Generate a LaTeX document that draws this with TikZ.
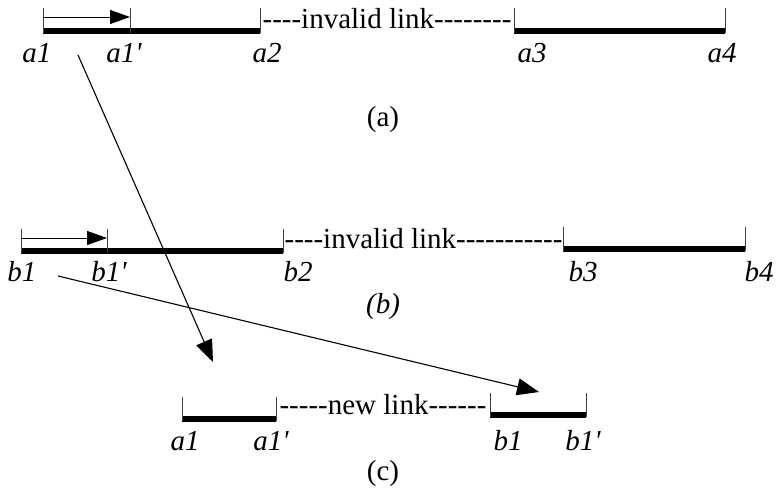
\documentclass[tikz,border=0pt]{standalone}
\usepackage{fontspec}
\setmainfont{Liberation Serif}[Ligatures=TeXOff]
\usetikzlibrary{arrows.meta}

\newcommand\figfont{\fontsize{29}{33}\selectfont}

\tikzset{
  seg/.style={line width=6pt},
  tick/.style={line width=0.7pt,black!75},
  lbl/.style={font=\figfont\itshape,anchor=base,inner sep=0pt},
  linktext/.style={font=\figfont,anchor=base,inner sep=0pt},
  short/.style={line width=1pt,-{Triangle[length=20pt,width=14pt]}},
  long/.style={line width=1.1pt,-{Triangle[length=22pt,width=17pt]}}
}

\begin{document}
\begin{tikzpicture}[x=1pt,y=-1pt,font=\figfont]
          \useasboundingbox (0,0) rectangle (780,490);
          % (a)
          \coordinate (a1) at (43,31);
          \coordinate (a1p) at (130,31);
          \coordinate (a2) at (260,31);
          \coordinate (a3) at (514,31);
          \coordinate (a4) at (725,31);
          \draw[seg] (a1) -- (a2);
          \draw[seg] (a3) -- (a4);
          \foreach \p in {a1,a1p,a2,a3,a4} \draw[tick] ([yshift=-2pt]\p) -- ++(0,-25);
          \draw[short] ([yshift=14pt]a1) -- ([yshift=14pt]a1p);
          \node[linktext] (linka) at (387,28) {----invalid link--------};
          \node[lbl] (la1) at (37,62) {a1};
          \node[lbl] (la1p) at (124,62) {a1'};
          \node[lbl] (la2) at (267,62) {a2};
          \node[lbl] (la3) at (532,62) {a3};
          \node[lbl] (la4) at (722,62) {a4};
          \node (capa) at (383,120) {(a)};
          % (b)
          \coordinate (b1) at (21,251);
          \coordinate (b1p) at (107,251);
          \coordinate (b2) at (283,251);
          \coordinate (b3) at (563,248.5);
          \coordinate (b4) at (745,248.5);
          \draw[seg] (b1) -- (b2);
          \draw[seg] (b3) -- (b4);
          \foreach \p in {b1,b1p,b2,b3,b4} \draw[tick] ([yshift=-2pt]\p) -- ++(0,-24);
          \draw[short] ([yshift=13pt]b1) -- ([yshift=13pt]b1p);
          \node[linktext] (linkb) at (423.5,248) {----invalid link-----------};
          \node[lbl] (lb1) at (22,281) {b1};
          \node[lbl] (lb1p) at (109,281) {b1'};
          \node[lbl] (lb2) at (298,281) {b2};
          \node[lbl] (lb3) at (583,281) {b3};
          \node[lbl] (lb4) at (759,281) {b4};
          \node[font=\figfont\itshape] (capb) at (383,307) {(b)};
          % (c)
          \coordinate (c1) at (182,418.5);
          \coordinate (c1p) at (276,418.5);
          \coordinate (d1) at (490,414.5);
          \coordinate (d1p) at (586,414.5);
          \draw[seg] (c1) -- (c1p);
          \draw[seg] (d1) -- (d1p);
          \foreach \p in {c1,c1p,d1,d1p} \draw[tick] ([yshift=-2pt]\p) -- ++(0,-24);
          \node[linktext] (linkc) at (383,414) {-----new link------};
          \node[lbl] (lc1) at (185,450) {a1};
          \node[lbl] (lc1p) at (271,450) {a1'};
          \node[lbl] (ld1) at (508,450) {b1};
          \node[lbl] (ld1p) at (583,450) {b1'};
          \node (capc) at (383,474) {(c)};
          % moves
          \coordinate (tipa) at (213,362);
          \coordinate (tipb) at (539,392);
          \draw[long] ([shift={(41,-7)}]la1.base) -- (tipa);
          \draw[long] ([shift={(36,-5)}]lb1.base) -- (tipb);
        \end{tikzpicture}
\end{document}
